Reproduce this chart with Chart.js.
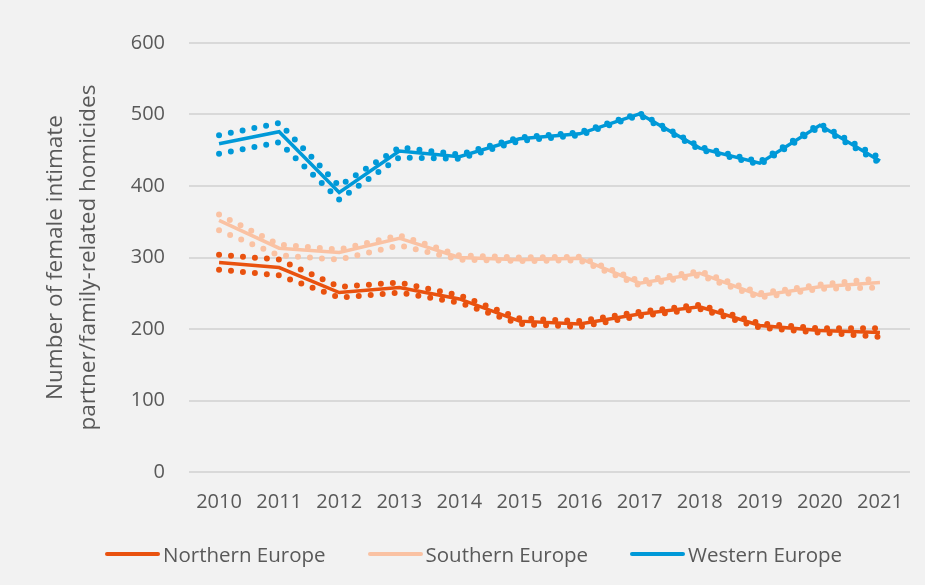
<!DOCTYPE html>
<html>
<head>
<meta charset="utf-8">
<script src="https://cdn.jsdelivr.net/npm/chart.js@4"></script>
<style>
  html, body { margin: 0; padding: 0; background: #f2f2f2; }
  #wrap { position: relative; width: 925px; height: 585px; }
  #legend {
    position: absolute; left: 105px; top: 540px;
    display: flex; gap: 42px;
    font-family: "Open Sans", sans-serif; font-size: 20.5px; color: #595959;
  }
  .item { display: flex; align-items: center; gap: 3px; }
  .swatch { width: 55px; height: 4px; border-radius: 2px; }
</style>
</head>
<body>
<div id="wrap">
  <canvas id="chart" width="925" height="585"></canvas>
  <div id="legend"></div>
</div>
<script>
// years on the x axis
const years = ['2010', '2011', '2012', '2013', '2014', '2015', '2016', '2017', '2018', '2019', '2020', '2021'];

// central estimates
const northern = [293, 286, 251, 258, 242, 211, 207, 221, 231, 205, 198, 195];
const southern = [352, 313, 307, 327, 300, 297, 299, 264, 278, 247, 259, 265];
const western  = [459, 476, 391, 449, 441, 466, 473, 501, 453, 432, 485, 435];

// upper / lower bounds (dotted)
const northernHigh = [304, 297, 259, 265, 247, 215, 211, 224, 234, 208, 201, 201];
const northernLow  = [283, 275, 244, 251, 237, 207, 203, 218, 228, 202, 195, 189];
const southernHigh = [360, 318, 311, 331, 303, 300, 301, 267, 281, 250, 262, 271];
const southernLow  = [338, 303, 297, 317, 297, 295, 296, 261, 275, 244, 256, 258];
const westernHigh  = [471, 488, 400, 454, 444, 468, 475, 502, 455, 434, 487, 439];
const westernLow   = [445, 461, 381, 440, 438, 463, 471, 499, 451, 430, 483, 432];

const labelColor = '#595959';
const colors = { north: '#e9520f', south: '#fac2a3', west: '#0099d8' };

function mainLine(label, data, color) {
  return {
    label: label, data: data, borderColor: color, backgroundColor: color,
    borderWidth: 3.5, pointRadius: 0, tension: 0
  };
}
function dotLine(label, data, color) {
  return {
    label: label, data: data, borderColor: color, backgroundColor: color,
    borderWidth: 6, borderDash: [0, 12], borderCapStyle: 'round',
    pointRadius: 0, tension: 0
  };
}

const datasets = [
  mainLine('Western Europe', western, colors.west),
  dotLine('Western high', westernHigh, colors.west),
  dotLine('Western low', westernLow, colors.west),
  mainLine('Northern Europe', northern, colors.north),
  mainLine('Southern Europe', southern, colors.south),
  dotLine('Northern high', northernHigh, colors.north),
  dotLine('Northern low', northernLow, colors.north),
  dotLine('Southern high', southernHigh, colors.south),
  dotLine('Southern low', southernLow, colors.south)
];

new Chart(document.getElementById('chart'), {
  type: 'line',
  data: { labels: years, datasets: datasets },
  options: {
    responsive: false,
    animation: false,
    layout: { padding: { top: 43, right: 15, bottom: 61, left: 20 } },
    plugins: { legend: { display: false }, tooltip: { enabled: false } },
    scales: {
      x: {
        offset: true,
        grid: { display: false },
        border: { display: false },
        ticks: { color: labelColor, padding: 10, font: { family: 'Open Sans', size: 20 } }
      },
      y: {
        min: 0, max: 600,
        ticks: { stepSize: 100, color: labelColor, padding: 24, font: { family: 'Open Sans', size: 20 } },
        grid: { color: '#d9d9d9', lineWidth: 2, drawTicks: false },
        border: { display: false },
        title: {
          display: true,
          text: ['Number of female intimate', 'partner/family-related homicides'],
          color: labelColor,
          padding: { top: 19, bottom: 2 },
          font: { family: 'Open Sans', size: 22.5, lineHeight: 1.46 }
        }
      }
    }
  }
});

// legend: only the central lines
const legendEl = document.getElementById('legend');
[['Northern Europe', colors.north], ['Southern Europe', colors.south], ['Western Europe', colors.west]].forEach(([name, color]) => {
  const item = document.createElement('div');
  item.className = 'item';
  item.innerHTML = `<span class="swatch" style="background:${color}"></span><span>${name}</span>`;
  legendEl.appendChild(item);
});
</script>
</body>
</html>
